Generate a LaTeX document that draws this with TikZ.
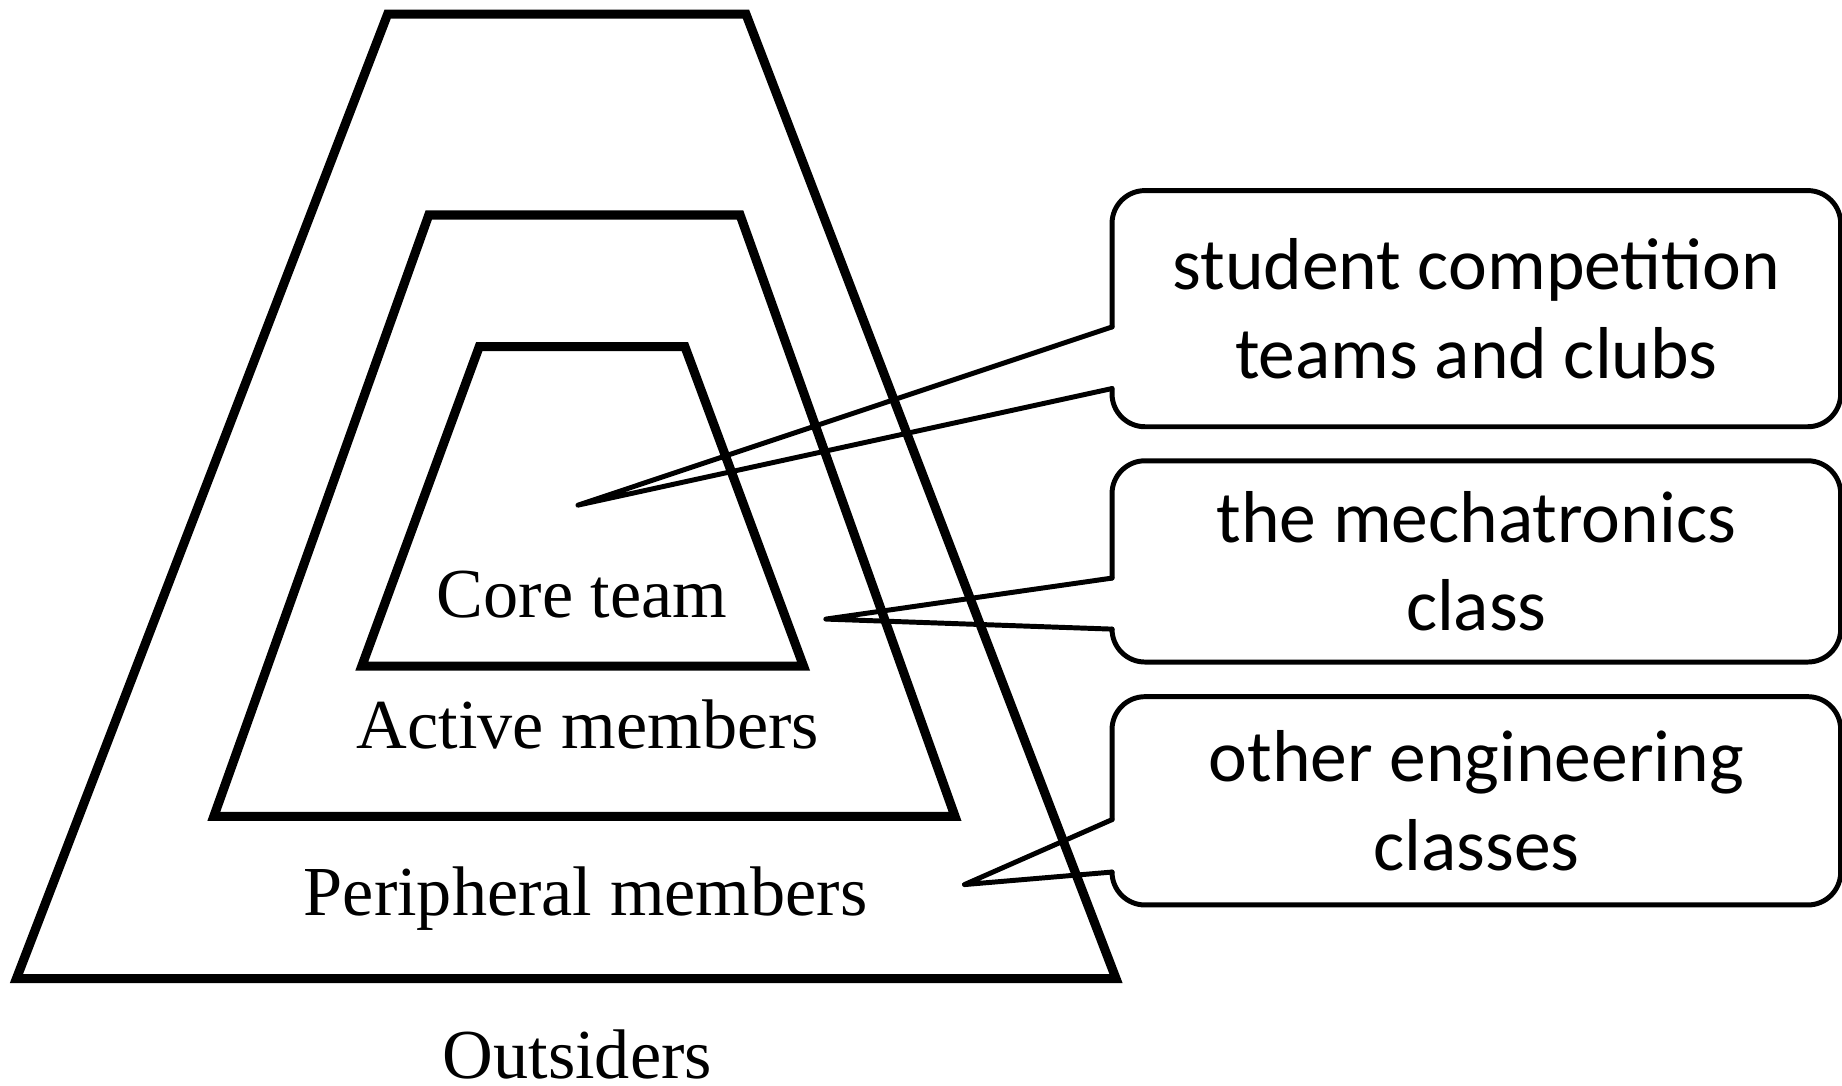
\documentclass[tikz,border=0pt]{standalone}
\usepackage{fontspec}
\setmainfont{Liberation Serif}
\newfontfamily\bubblefont{Carlito}

\tikzset{
	layer/.style={line width=2.2pt, line join=miter},
	bubble/.style={minimum width=6.185cm, inner sep=0pt, align=center,
		font=\bubblefont\fontsize{17.8}{21.4}\selectfont},
	bubbleline/.style={line width=1.2pt, line join=round, rounded corners=0.28cm},
	wedge/.style={line width=1.2pt, line join=round},
	ring/.style={anchor=base, inner sep=0pt, font=\fontsize{17}{20}\selectfont}
}

\begin{document}
\begin{tikzpicture}[x=0.01cm, y=-0.01cm, line cap=round]
	\useasboundingbox (0,0) rectangle (1568,924);
	\path
	(330,12) coordinate (O1)
	(635,12) coordinate (O2)
	(950,833) coordinate (O3)
	(14,833) coordinate (O4)
	(365,183) coordinate (M1)
	(630,183) coordinate (M2)
	(813,695) coordinate (M3)
	(182,695) coordinate (M4)
	(408,295) coordinate (I1)
	(583,295) coordinate (I2)
	(684,567) coordinate (I3)
	(308,567) coordinate (I4)
	(492,430) coordinate (T1)
	(703,527) coordinate (T2)
	(821,753) coordinate (T3)
	;
	\draw[layer] (O1)--(O2)--(O3)--(O4)--cycle;
	\draw[layer] (M1)--(M2)--(M3)--(M4)--cycle;
	\draw[layer] (I1)--(I2)--(I3)--(I4)--cycle;
	\foreach \n/\x/\y/\t in {core/495.5/526/Core team, active/500.5/637/Active members,
		periph/498.5/779/Peripheral members, out/491.5/918/Outsiders}
	\node[ring] (\n) at (\x,\y) {\t};
	\node[bubble, minimum height=1.995cm] (clubs) at (1256.75,262.75) {student competition\\teams and clubs};
	\node[bubble, minimum height=1.698cm] (mech) at (1256.75,477.9) {the mechatronics\\class};
	\node[bubble, minimum height=1.758cm] (other) at (1256.75,681.7) {other engineering\\classes};
	\foreach \b/\u/\d/\p in {clubs/1.16/0.325/T1, mech/0.998/0.28/T2, other/1.046/0.28/T3}{
		\draw[bubbleline] ([yshift=-\u cm]\b.north west) -- (\b.north west) -- (\b.north east)
		-- (\b.south east) -- (\b.south west) -- ([yshift=\d cm]\b.south west);
		\draw[wedge] ([yshift=\d cm]\b.south west) -- (\p) -- ([yshift=-\u cm]\b.north west);
	}
\end{tikzpicture}
\end{document}
